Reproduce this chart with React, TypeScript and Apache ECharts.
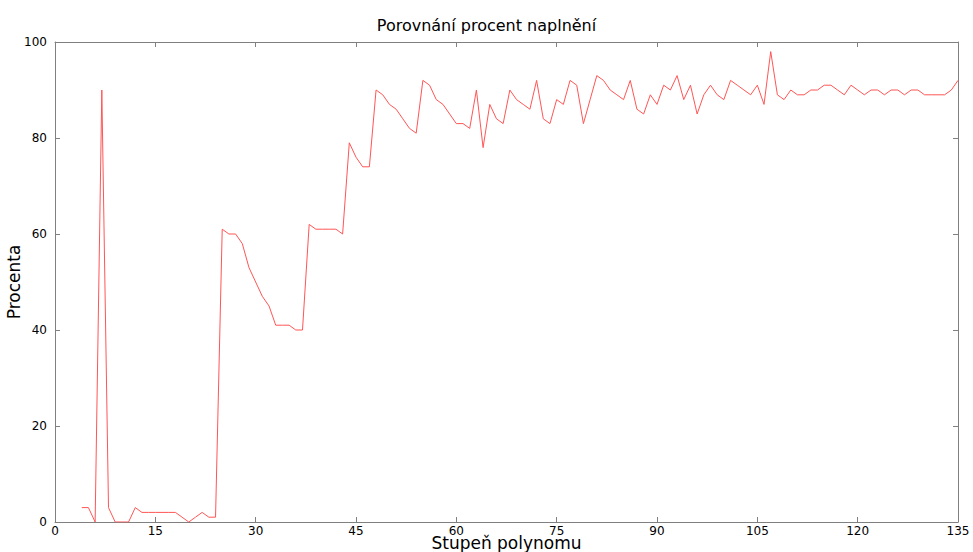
import React, { useEffect, useRef } from "react";
import * as echarts from "echarts";

const degrees: number[] = [];
for (let d = 4; d <= 135; d++) degrees.push(d);

const percents: number[] = [
  3, 3, 0, 90, 3, 0, 0, 0, 3, 2, 2, 2, 2, 2, 2, 1, 0, 1, 2, 1, 1, // 4..24
  61, 60, 60, 58, 53, 50, 47, 45, 41, 41, 41, 40, 40, // 25..37
  62, 61, 61, 61, 61, 60, 79, 76, 74, 74, // 38..47
  90, 89, 87, 86, 84, 82, 81, 92, 91, 88, 87, 85, 83, 83, 82, // 48..62
  90, 78, 87, 84, 83, 90, 88, 87, 86, 92, 84, 83, 88, 87, 92, 91, // 63..78
  83, 88, 93, 92, 90, 89, 88, 92, 86, 85, 89, 87, 91, 90, 93, 88, 91, 85, // 79..96
  89, 91, 89, 88, 92, 91, 90, 89, 91, 87, 98, 89, 88, 90, 89, 89, 90, 90, // 97..114
  91, 91, 90, 89, 91, 90, 89, 90, 90, 89, 90, 90, 89, 90, 90, 89, 89, 89, 89, 90, 92, // 115..135
];

const xTicks = { min: 0, max: 135, interval: 15 };
const yTicks = { min: 0, max: 100, interval: 20 };

const titleText = "Porovnání procent naplnění";
const xName = "Stupeň polynomu";
const yName = "Procenta";

export default function App() {
  const ref = useRef<HTMLDivElement>(null);
  useEffect(() => {
    if (!ref.current) return;
    const chart = echarts.init(ref.current, undefined, { renderer: "svg" });
    const font = "'DejaVu Sans', sans-serif";
    const frame = { show: true, onZero: false, lineStyle: { color: "#808080", width: 1 } };
    const inTicks = { show: true, inside: true, length: 5, lineStyle: { color: "#808080" } };
    chart.setOption({
      animation: false,
      backgroundColor: "#ffffff",
      title: {
        text: titleText,
        left: "center",
        top: 12,
        textStyle: { fontFamily: font, fontSize: 16, fontWeight: "normal", color: "#000" },
      },
      grid: { left: 55, right: 15, top: 42, bottom: 30, containLabel: false, outerBoundsMode: "none" },
      xAxis: [
        {
          type: "value",
          min: xTicks.min,
          max: xTicks.max,
          interval: xTicks.interval,
          position: "bottom",
          axisLine: frame,
          axisTick: inTicks,
          splitLine: { show: false },
          axisLabel: { fontFamily: font, fontSize: 12, color: "#000", margin: 3 },
          name: xName,
          nameLocation: "middle",
          nameGap: 12,
          nameMoveOverlap: false,
          nameTextStyle: { fontFamily: font, fontSize: 17, color: "#000" },
        },
        {
          type: "value",
          min: xTicks.min,
          max: xTicks.max,
          interval: xTicks.interval,
          position: "top",
          axisLine: frame,
          axisTick: inTicks,
          splitLine: { show: false },
          axisLabel: { show: false },
        },
      ],
      yAxis: [
        {
          type: "value",
          min: yTicks.min,
          max: yTicks.max,
          interval: yTicks.interval,
          position: "left",
          axisLine: frame,
          axisTick: inTicks,
          splitLine: { show: false },
          axisLabel: { fontFamily: font, fontSize: 12, color: "#000", margin: 8 },
          name: yName,
          nameLocation: "middle",
          nameGap: 33,
          nameMoveOverlap: false,
          nameTextStyle: { fontFamily: font, fontSize: 17, color: "#000" },
        },
        {
          type: "value",
          min: yTicks.min,
          max: yTicks.max,
          interval: yTicks.interval,
          position: "right",
          axisLine: frame,
          axisTick: inTicks,
          splitLine: { show: false },
          axisLabel: { show: false },
        },
      ],
      series: [
        {
          type: "line",
          xAxisIndex: 0,
          yAxisIndex: 0,
          data: degrees.map((d, i) => [d, percents[i]]),
          showSymbol: false,
          lineStyle: { color: "#ff5555", width: 1 },
        },
      ],
    });
    return () => chart.dispose();
  }, []);
  return <div ref={ref} style={{ width: 973, height: 552, position: "absolute", left: 0, top: 0 }} />;
}
